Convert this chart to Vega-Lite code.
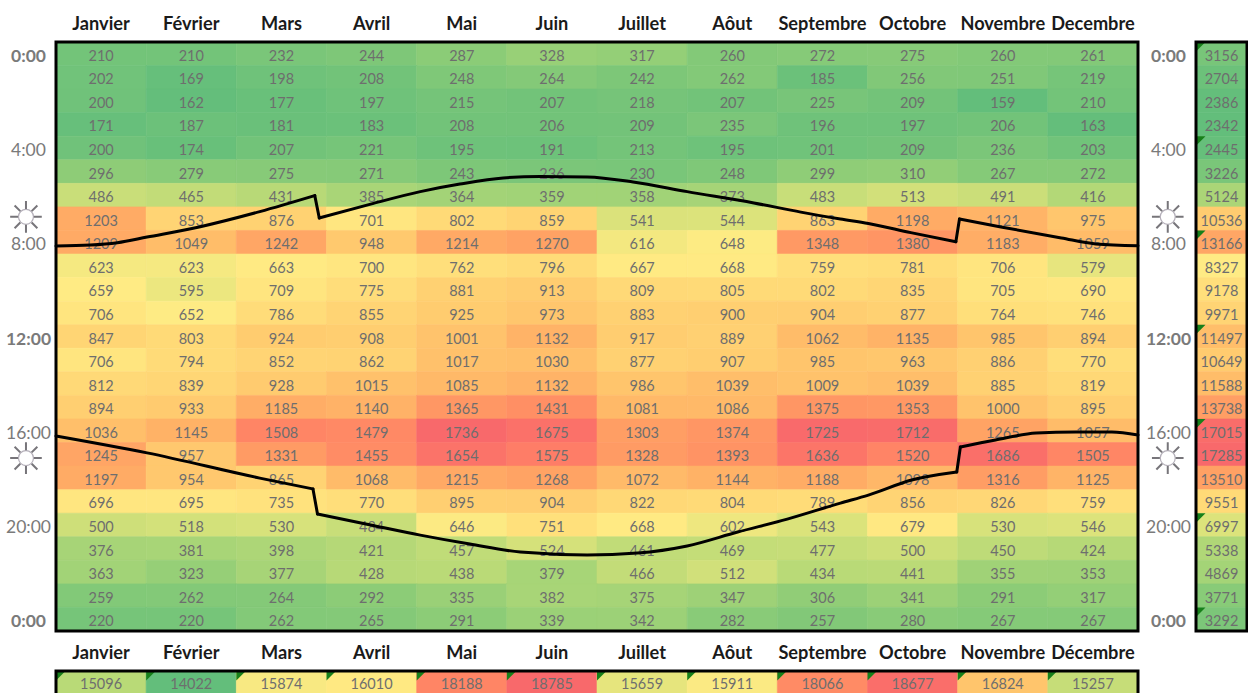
{
"$schema":"https://vega.github.io/schema/vega-lite/v6.json",
"padding":{"left":5,"top":14,"right":0,"bottom":0},
"background":"white",
"bounds":"flush",
"columns":2,
"spacing":{"column":58,"row":40},
"config":{"view":{"stroke":null},"font":"Lato"},
"resolve":{"scale":{"color":"independent","stroke":"independent"}},
"datasets":{
"cells":[
{"h":0,"month":"Janvier","value":210},{"h":0,"month":"Février","value":210},{"h":0,"month":"Mars","value":232},{"h":0,"month":"Avril","value":244},{"h":0,"month":"Mai","value":287},{"h":0,"month":"Juin","value":328},{"h":0,"month":"Juillet","value":317},{"h":0,"month":"Aôut","value":260},{"h":0,"month":"Septembre","value":272},{"h":0,"month":"Octobre","value":275},{"h":0,"month":"Novembre","value":260},{"h":0,"month":"Decembre","value":261},
{"h":1,"month":"Janvier","value":202},{"h":1,"month":"Février","value":169},{"h":1,"month":"Mars","value":198},{"h":1,"month":"Avril","value":208},{"h":1,"month":"Mai","value":248},{"h":1,"month":"Juin","value":264},{"h":1,"month":"Juillet","value":242},{"h":1,"month":"Aôut","value":262},{"h":1,"month":"Septembre","value":185},{"h":1,"month":"Octobre","value":256},{"h":1,"month":"Novembre","value":251},{"h":1,"month":"Decembre","value":219},
{"h":2,"month":"Janvier","value":200},{"h":2,"month":"Février","value":162},{"h":2,"month":"Mars","value":177},{"h":2,"month":"Avril","value":197},{"h":2,"month":"Mai","value":215},{"h":2,"month":"Juin","value":207},{"h":2,"month":"Juillet","value":218},{"h":2,"month":"Aôut","value":207},{"h":2,"month":"Septembre","value":225},{"h":2,"month":"Octobre","value":209},{"h":2,"month":"Novembre","value":159},{"h":2,"month":"Decembre","value":210},
{"h":3,"month":"Janvier","value":171},{"h":3,"month":"Février","value":187},{"h":3,"month":"Mars","value":181},{"h":3,"month":"Avril","value":183},{"h":3,"month":"Mai","value":208},{"h":3,"month":"Juin","value":206},{"h":3,"month":"Juillet","value":209},{"h":3,"month":"Aôut","value":235},{"h":3,"month":"Septembre","value":196},{"h":3,"month":"Octobre","value":197},{"h":3,"month":"Novembre","value":206},{"h":3,"month":"Decembre","value":163},
{"h":4,"month":"Janvier","value":200},{"h":4,"month":"Février","value":174},{"h":4,"month":"Mars","value":207},{"h":4,"month":"Avril","value":221},{"h":4,"month":"Mai","value":195},{"h":4,"month":"Juin","value":191},{"h":4,"month":"Juillet","value":213},{"h":4,"month":"Aôut","value":195},{"h":4,"month":"Septembre","value":201},{"h":4,"month":"Octobre","value":209},{"h":4,"month":"Novembre","value":236},{"h":4,"month":"Decembre","value":203},
{"h":5,"month":"Janvier","value":296},{"h":5,"month":"Février","value":279},{"h":5,"month":"Mars","value":275},{"h":5,"month":"Avril","value":271},{"h":5,"month":"Mai","value":243},{"h":5,"month":"Juin","value":236},{"h":5,"month":"Juillet","value":230},{"h":5,"month":"Aôut","value":248},{"h":5,"month":"Septembre","value":299},{"h":5,"month":"Octobre","value":310},{"h":5,"month":"Novembre","value":267},{"h":5,"month":"Decembre","value":272},
{"h":6,"month":"Janvier","value":486},{"h":6,"month":"Février","value":465},{"h":6,"month":"Mars","value":431},{"h":6,"month":"Avril","value":385},{"h":6,"month":"Mai","value":364},{"h":6,"month":"Juin","value":359},{"h":6,"month":"Juillet","value":358},{"h":6,"month":"Aôut","value":373},{"h":6,"month":"Septembre","value":483},{"h":6,"month":"Octobre","value":513},{"h":6,"month":"Novembre","value":491},{"h":6,"month":"Decembre","value":416},
{"h":7,"month":"Janvier","value":1203},{"h":7,"month":"Février","value":853},{"h":7,"month":"Mars","value":876},{"h":7,"month":"Avril","value":701},{"h":7,"month":"Mai","value":802},{"h":7,"month":"Juin","value":859},{"h":7,"month":"Juillet","value":541},{"h":7,"month":"Aôut","value":544},{"h":7,"month":"Septembre","value":863},{"h":7,"month":"Octobre","value":1198},{"h":7,"month":"Novembre","value":1121},{"h":7,"month":"Decembre","value":975},
{"h":8,"month":"Janvier","value":1209},{"h":8,"month":"Février","value":1049},{"h":8,"month":"Mars","value":1242},{"h":8,"month":"Avril","value":948},{"h":8,"month":"Mai","value":1214},{"h":8,"month":"Juin","value":1270},{"h":8,"month":"Juillet","value":616},{"h":8,"month":"Aôut","value":648},{"h":8,"month":"Septembre","value":1348},{"h":8,"month":"Octobre","value":1380},{"h":8,"month":"Novembre","value":1183},{"h":8,"month":"Decembre","value":1059},
{"h":9,"month":"Janvier","value":623},{"h":9,"month":"Février","value":623},{"h":9,"month":"Mars","value":663},{"h":9,"month":"Avril","value":700},{"h":9,"month":"Mai","value":762},{"h":9,"month":"Juin","value":796},{"h":9,"month":"Juillet","value":667},{"h":9,"month":"Aôut","value":668},{"h":9,"month":"Septembre","value":759},{"h":9,"month":"Octobre","value":781},{"h":9,"month":"Novembre","value":706},{"h":9,"month":"Decembre","value":579},
{"h":10,"month":"Janvier","value":659},{"h":10,"month":"Février","value":595},{"h":10,"month":"Mars","value":709},{"h":10,"month":"Avril","value":775},{"h":10,"month":"Mai","value":881},{"h":10,"month":"Juin","value":913},{"h":10,"month":"Juillet","value":809},{"h":10,"month":"Aôut","value":805},{"h":10,"month":"Septembre","value":802},{"h":10,"month":"Octobre","value":835},{"h":10,"month":"Novembre","value":705},{"h":10,"month":"Decembre","value":690},
{"h":11,"month":"Janvier","value":706},{"h":11,"month":"Février","value":652},{"h":11,"month":"Mars","value":786},{"h":11,"month":"Avril","value":855},{"h":11,"month":"Mai","value":925},{"h":11,"month":"Juin","value":973},{"h":11,"month":"Juillet","value":883},{"h":11,"month":"Aôut","value":900},{"h":11,"month":"Septembre","value":904},{"h":11,"month":"Octobre","value":877},{"h":11,"month":"Novembre","value":764},{"h":11,"month":"Decembre","value":746},
{"h":12,"month":"Janvier","value":847},{"h":12,"month":"Février","value":803},{"h":12,"month":"Mars","value":924},{"h":12,"month":"Avril","value":908},{"h":12,"month":"Mai","value":1001},{"h":12,"month":"Juin","value":1132},{"h":12,"month":"Juillet","value":917},{"h":12,"month":"Aôut","value":889},{"h":12,"month":"Septembre","value":1062},{"h":12,"month":"Octobre","value":1135},{"h":12,"month":"Novembre","value":985},{"h":12,"month":"Decembre","value":894},
{"h":13,"month":"Janvier","value":706},{"h":13,"month":"Février","value":794},{"h":13,"month":"Mars","value":852},{"h":13,"month":"Avril","value":862},{"h":13,"month":"Mai","value":1017},{"h":13,"month":"Juin","value":1030},{"h":13,"month":"Juillet","value":877},{"h":13,"month":"Aôut","value":907},{"h":13,"month":"Septembre","value":985},{"h":13,"month":"Octobre","value":963},{"h":13,"month":"Novembre","value":886},{"h":13,"month":"Decembre","value":770},
{"h":14,"month":"Janvier","value":812},{"h":14,"month":"Février","value":839},{"h":14,"month":"Mars","value":928},{"h":14,"month":"Avril","value":1015},{"h":14,"month":"Mai","value":1085},{"h":14,"month":"Juin","value":1132},{"h":14,"month":"Juillet","value":986},{"h":14,"month":"Aôut","value":1039},{"h":14,"month":"Septembre","value":1009},{"h":14,"month":"Octobre","value":1039},{"h":14,"month":"Novembre","value":885},{"h":14,"month":"Decembre","value":819},
{"h":15,"month":"Janvier","value":894},{"h":15,"month":"Février","value":933},{"h":15,"month":"Mars","value":1185},{"h":15,"month":"Avril","value":1140},{"h":15,"month":"Mai","value":1365},{"h":15,"month":"Juin","value":1431},{"h":15,"month":"Juillet","value":1081},{"h":15,"month":"Aôut","value":1086},{"h":15,"month":"Septembre","value":1375},{"h":15,"month":"Octobre","value":1353},{"h":15,"month":"Novembre","value":1000},{"h":15,"month":"Decembre","value":895},
{"h":16,"month":"Janvier","value":1036},{"h":16,"month":"Février","value":1145},{"h":16,"month":"Mars","value":1508},{"h":16,"month":"Avril","value":1479},{"h":16,"month":"Mai","value":1736},{"h":16,"month":"Juin","value":1675},{"h":16,"month":"Juillet","value":1303},{"h":16,"month":"Aôut","value":1374},{"h":16,"month":"Septembre","value":1725},{"h":16,"month":"Octobre","value":1712},{"h":16,"month":"Novembre","value":1265},{"h":16,"month":"Decembre","value":1057},
{"h":17,"month":"Janvier","value":1245},{"h":17,"month":"Février","value":957},{"h":17,"month":"Mars","value":1331},{"h":17,"month":"Avril","value":1455},{"h":17,"month":"Mai","value":1654},{"h":17,"month":"Juin","value":1575},{"h":17,"month":"Juillet","value":1328},{"h":17,"month":"Aôut","value":1393},{"h":17,"month":"Septembre","value":1636},{"h":17,"month":"Octobre","value":1520},{"h":17,"month":"Novembre","value":1686},{"h":17,"month":"Decembre","value":1505},
{"h":18,"month":"Janvier","value":1197},{"h":18,"month":"Février","value":954},{"h":18,"month":"Mars","value":865},{"h":18,"month":"Avril","value":1068},{"h":18,"month":"Mai","value":1215},{"h":18,"month":"Juin","value":1268},{"h":18,"month":"Juillet","value":1072},{"h":18,"month":"Aôut","value":1144},{"h":18,"month":"Septembre","value":1188},{"h":18,"month":"Octobre","value":1098},{"h":18,"month":"Novembre","value":1316},{"h":18,"month":"Decembre","value":1125},
{"h":19,"month":"Janvier","value":696},{"h":19,"month":"Février","value":695},{"h":19,"month":"Mars","value":735},{"h":19,"month":"Avril","value":770},{"h":19,"month":"Mai","value":895},{"h":19,"month":"Juin","value":904},{"h":19,"month":"Juillet","value":822},{"h":19,"month":"Aôut","value":804},{"h":19,"month":"Septembre","value":789},{"h":19,"month":"Octobre","value":856},{"h":19,"month":"Novembre","value":826},{"h":19,"month":"Decembre","value":759},
{"h":20,"month":"Janvier","value":500},{"h":20,"month":"Février","value":518},{"h":20,"month":"Mars","value":530},{"h":20,"month":"Avril","value":484},{"h":20,"month":"Mai","value":646},{"h":20,"month":"Juin","value":751},{"h":20,"month":"Juillet","value":668},{"h":20,"month":"Aôut","value":602},{"h":20,"month":"Septembre","value":543},{"h":20,"month":"Octobre","value":679},{"h":20,"month":"Novembre","value":530},{"h":20,"month":"Decembre","value":546},
{"h":21,"month":"Janvier","value":376},{"h":21,"month":"Février","value":381},{"h":21,"month":"Mars","value":398},{"h":21,"month":"Avril","value":421},{"h":21,"month":"Mai","value":457},{"h":21,"month":"Juin","value":524},{"h":21,"month":"Juillet","value":461},{"h":21,"month":"Aôut","value":469},{"h":21,"month":"Septembre","value":477},{"h":21,"month":"Octobre","value":500},{"h":21,"month":"Novembre","value":450},{"h":21,"month":"Decembre","value":424},
{"h":22,"month":"Janvier","value":363},{"h":22,"month":"Février","value":323},{"h":22,"month":"Mars","value":377},{"h":22,"month":"Avril","value":428},{"h":22,"month":"Mai","value":438},{"h":22,"month":"Juin","value":379},{"h":22,"month":"Juillet","value":466},{"h":22,"month":"Aôut","value":512},{"h":22,"month":"Septembre","value":434},{"h":22,"month":"Octobre","value":441},{"h":22,"month":"Novembre","value":355},{"h":22,"month":"Decembre","value":353},
{"h":23,"month":"Janvier","value":259},{"h":23,"month":"Février","value":262},{"h":23,"month":"Mars","value":264},{"h":23,"month":"Avril","value":292},{"h":23,"month":"Mai","value":335},{"h":23,"month":"Juin","value":382},{"h":23,"month":"Juillet","value":375},{"h":23,"month":"Aôut","value":347},{"h":23,"month":"Septembre","value":306},{"h":23,"month":"Octobre","value":341},{"h":23,"month":"Novembre","value":291},{"h":23,"month":"Decembre","value":317},
{"h":24,"month":"Janvier","value":220},{"h":24,"month":"Février","value":220},{"h":24,"month":"Mars","value":262},{"h":24,"month":"Avril","value":265},{"h":24,"month":"Mai","value":291},{"h":24,"month":"Juin","value":339},{"h":24,"month":"Juillet","value":342},{"h":24,"month":"Aôut","value":282},{"h":24,"month":"Septembre","value":257},{"h":24,"month":"Octobre","value":280},{"h":24,"month":"Novembre","value":267},{"h":24,"month":"Decembre","value":267}
],
"curves":[
{"c":"l1","m":0,"t":8.16},{"c":"l1","m":0.38,"t":8.12},{"c":"l1","m":0.68,"t":8.02},{"c":"l1","m":1.01,"t":7.78},{"c":"l1","m":1.6,"t":7.34},{"c":"l1","m":2.26,"t":6.7},{"c":"l1","m":2.87,"t":6.02},
{"c":"ls1","m":2.87,"t":6.02},{"c":"ls1","m":2.92,"t":6.97},
{"c":"l2","m":2.92,"t":6.97},{"c":"l2","m":3.49,"t":6.38},{"c":"l2","m":4.04,"t":5.85},{"c":"l2","m":4.48,"t":5.53},{"c":"l2","m":4.96,"t":5.27},{"c":"l2","m":5.37,"t":5.21},{"c":"l2","m":5.89,"t":5.23},{"c":"l2","m":6.4,"t":5.44},{"c":"l2","m":7,"t":5.85},{"c":"l2","m":7.74,"t":6.33},{"c":"l2","m":8.26,"t":6.72},{"c":"l2","m":8.7,"t":7.01},{"c":"l2","m":9.01,"t":7.2},{"c":"l2","m":9.48,"t":7.59},{"c":"l2","m":9.98,"t":7.98},
{"c":"ls2","m":9.98,"t":7.98},{"c":"ls2","m":10.02,"t":7.01},
{"c":"l3","m":10.02,"t":7.01},{"c":"l3","m":10.48,"t":7.35},{"c":"l3","m":11.15,"t":7.82},{"c":"l3","m":11.53,"t":8.07},{"c":"l3","m":12,"t":8.15},
{"c":"c1","m":0,"t":16.22},{"c":"c1","m":1.01,"t":16.94},{"c":"c1","m":2.26,"t":18.01},{"c":"c1","m":2.85,"t":18.47},
{"c":"cs1","m":2.85,"t":18.47},{"c":"cs1","m":2.9,"t":19.53},
{"c":"c2","m":2.9,"t":19.53},{"c":"c2","m":3.49,"t":20},{"c":"c2","m":4.04,"t":20.43},{"c":"c2","m":4.59,"t":20.81},{"c":"c2","m":5.15,"t":21.15},{"c":"c2","m":5.89,"t":21.27},{"c":"c2","m":6.45,"t":21.19},{"c":"c2","m":7,"t":20.89},{"c":"c2","m":7.56,"t":20.3},{"c":"c2","m":8.11,"t":19.75},{"c":"c2","m":8.7,"t":19.07},{"c":"c2","m":9.01,"t":18.73},{"c":"c2","m":9.49,"t":18.09},{"c":"c2","m":9.99,"t":17.75},
{"c":"cs2","m":9.99,"t":17.75},{"c":"cs2","m":10.03,"t":16.69},
{"c":"c3","m":10.03,"t":16.69},{"c":"c3","m":10.42,"t":16.39},{"c":"c3","m":10.87,"t":16.1},{"c":"c3","m":11.31,"t":16.05},{"c":"c3","m":11.71,"t":16.05},{"c":"c3","m":12,"t":16.18}
],
"right":[
{"h":0,"total":3156,"flag":true},{"h":1,"total":2704,"flag":false},{"h":2,"total":2386,"flag":false},{"h":3,"total":2342,"flag":false},{"h":4,"total":2445,"flag":true},{"h":5,"total":3226,"flag":false},{"h":6,"total":5124,"flag":false},{"h":7,"total":10536,"flag":false},{"h":8,"total":13166,"flag":true},{"h":9,"total":8327,"flag":false},{"h":10,"total":9178,"flag":false},{"h":11,"total":9971,"flag":false},{"h":12,"total":11497,"flag":true},{"h":13,"total":10649,"flag":false},{"h":14,"total":11588,"flag":false},{"h":15,"total":13738,"flag":false},{"h":16,"total":17015,"flag":true},{"h":17,"total":17285,"flag":false},{"h":18,"total":13510,"flag":false},{"h":19,"total":9551,"flag":false},{"h":20,"total":6997,"flag":true},{"h":21,"total":5338,"flag":false},{"h":22,"total":4869,"flag":false},{"h":23,"total":3771,"flag":false},{"h":24,"total":3292,"flag":true}
],
"bottom":[
{"month":"Janvier","total":15096},{"month":"Février","total":14022},{"month":"Mars","total":15874},{"month":"Avril","total":16010},{"month":"Mai","total":18188},{"month":"Juin","total":18785},{"month":"Juillet","total":15659},{"month":"Aôut","total":15911},{"month":"Septembre","total":18066},{"month":"Octobre","total":18677},{"month":"Novembre","total":16824},{"month":"Décembre","total":15257}
],
"frame":[{"a0":0,"a1":1,"b0":0,"b1":1}],
"suns":[{"m":-0.333,"t":6.92},{"m":-0.333,"t":17.16},{"m":12.33,"t":6.92},{"m":12.33,"t":17.16}]
},
"concat":[
{
"width":1082,"height":589,
"resolve":{"scale":{"x":"independent","y":"independent"}},
"layer":[
{
"data":{"name":"cells"},
"layer":[
{"mark":{"type":"rect","strokeWidth":0.6},
"encoding":{
"x":{"field":"month","type":"nominal","sort":null,"scale":{"paddingInner":0,"paddingOuter":0},"axis":{"orient":"top","title":null,"ticks":false,"domain":false,"labelAngle":0,"labelFont":"Lato","labelFontWeight":"bold","labelFontSize":18.2,"labelColor":"#1a1a1a","labelPadding":8.5,"labelOverlap":false,"labelBound":false,"labelFlush":false}},
"y":{"field":"h","type":"ordinal","scale":{"paddingInner":0,"paddingOuter":0},"axis":{"orient":"left","title":null,"ticks":false,"domain":false,"values":[0,4,8,12,16,20,24],"labelExpr":"(datum.value==24?0:datum.value)+':00'","labelFont":"Lato","labelFontSize":17.5,"labelColor":"#7a7a7a","labelFontWeight":{"condition":{"test":"datum.value%12==0","value":"bold"},"value":"normal"},"labelAlign":"center","labelPadding":28,"labelOffset":3,"labelOverlap":false,"labelBound":false}},
"color":{"field":"value","type":"quantitative","legend":null,"scale":{"type":"linear","domain":[159,655,1736],"range":["#63BE7B","#FFEB84","#F8696B"]}},
"stroke":{"field":"value","type":"quantitative","legend":null,"scale":{"type":"linear","domain":[159,655,1736],"range":["#63BE7B","#FFEB84","#F8696B"]}}
}},
{"mark":{"type":"text","font":"Lato","fontSize":14.5,"color":"#6e6e6e","dy":3},
"encoding":{
"x":{"field":"month","type":"nominal","sort":null},
"y":{"field":"h","type":"ordinal"},
"text":{"field":"value","type":"quantitative","format":"d"}
}}
]
},
{
"data":{"name":"curves"},
"mark":{"type":"line","color":"#000","strokeWidth":3,"interpolate":"monotone","clip":false,"strokeCap":"round"},
"encoding":{
"x":{"field":"m","type":"quantitative","scale":{"domain":[0,12],"nice":false,"zero":false},"axis":null},
"y":{"field":"t","type":"quantitative","scale":{"domain":[24.5,-0.5],"nice":false,"zero":false},"axis":null},
"detail":{"field":"c"},
"order":{"field":"m"}
}
},
{
"data":{"name":"suns"},
"mark":{"type":"point","shape":"M0.5,0A0.5,0.5 0 1,1 -0.5,0A0.5,0.5 0 1,1 0.5,0","size":900,"filled":true,"fill":"#ffffff","stroke":"#b5b0ba","strokeWidth":1.2,"opacity":1},
"encoding":{
"x":{"field":"m","type":"quantitative","axis":null,"scale":{"domain":[0,12],"nice":false,"zero":false}},
"y":{"field":"t","type":"quantitative","axis":null,"scale":{"domain":[24.5,-0.5],"nice":false,"zero":false}}
}
},
{
"data":{"name":"suns"},
"mark":{"type":"point","shape":"M0,-1L0,-0.5M0,1L0,0.5M-1,0L-0.5,0M1,0L0.5,0M-0.72,-0.72L-0.36,-0.36M0.72,-0.72L0.36,-0.36M-0.72,0.72L-0.36,0.36M0.72,0.72L0.36,0.36","size":1000,"filled":false,"stroke":"#77757a","strokeWidth":2,"opacity":1},
"encoding":{
"x":{"field":"m","type":"quantitative","axis":null,"scale":{"domain":[0,12],"nice":false,"zero":false}},
"y":{"field":"t","type":"quantitative","axis":null,"scale":{"domain":[24.5,-0.5],"nice":false,"zero":false}}
}
},
{
"data":{"name":"frame"},
"mark":{"type":"rect","fill":null,"stroke":"#000","strokeWidth":3,"clip":false},
"encoding":{
"x":{"field":"a0","type":"quantitative","axis":null,"scale":{"domain":[0,1],"nice":false,"zero":false}},
"x2":{"field":"a1"},
"y":{"field":"b0","type":"quantitative","axis":null,"scale":{"domain":[0,1],"nice":false,"zero":false}},
"y2":{"field":"b1"}
}
}
]
},
{
"width":51,"height":589,
"resolve":{"scale":{"x":"independent","y":"independent"}},
"layer":[
{
"data":{"name":"right"},
"layer":[
{"mark":{"type":"rect","strokeWidth":0.6},
"encoding":{
"y":{"field":"h","type":"ordinal","scale":{"paddingInner":0,"paddingOuter":0},"axis":{"orient":"left","title":null,"ticks":false,"domain":false,"values":[0,4,8,12,16,20,24],"labelExpr":"(datum.value==24?0:datum.value)+':00'","labelFont":"Lato","labelFontSize":17.5,"labelColor":"#7a7a7a","labelFontWeight":{"condition":{"test":"datum.value%12==0","value":"bold"},"value":"normal"},"labelAlign":"center","labelPadding":28,"labelOffset":3,"labelOverlap":false,"labelBound":false}},
"color":{"field":"total","type":"quantitative","legend":null,"scale":{"type":"linear","domain":[2342,8327,17285],"range":["#63BE7B","#FFEB84","#F8696B"]}},
"stroke":{"field":"total","type":"quantitative","legend":null,"scale":{"type":"linear","domain":[2342,8327,17285],"range":["#63BE7B","#FFEB84","#F8696B"]}}
}},
{"mark":{"type":"text","font":"Lato","fontSize":14.5,"color":"#6e6e6e","dy":3},
"encoding":{"y":{"field":"h","type":"ordinal"},"text":{"field":"total","type":"quantitative","format":"d"}}}
]
},
{
"data":{"name":"right"},
"transform":[{"filter":"datum.flag"}],
"mark":{"type":"point","shape":"M0,0L1,0L0,1Z","size":361,"filled":true,"fill":"#17801a","stroke":null,"opacity":1,"clip":false},
"encoding":{
"x":{"datum":0,"type":"quantitative","axis":null,"scale":{"domain":[0,1],"nice":false,"zero":false}},
"y":{"field":"h","type":"quantitative","axis":null,"scale":{"domain":[25,0],"nice":false,"zero":false}}
}
},
{
"data":{"name":"frame"},
"mark":{"type":"rect","fill":null,"stroke":"#000","strokeWidth":3,"clip":false},
"encoding":{
"x":{"field":"a0","type":"quantitative","axis":null,"scale":{"domain":[0,1],"nice":false,"zero":false}},
"x2":{"field":"a1"},
"y":{"field":"b0","type":"quantitative","axis":null,"scale":{"domain":[0,1],"nice":false,"zero":false}},
"y2":{"field":"b1"}
}
}
]
},
{
"width":1082,"height":24,
"resolve":{"scale":{"x":"independent","y":"independent"}},
"layer":[
{
"data":{"name":"bottom"},
"layer":[
{"mark":{"type":"rect","strokeWidth":0.6},
"encoding":{
"x":{"field":"month","type":"nominal","sort":null,"scale":{"paddingInner":0,"paddingOuter":0},"axis":{"orient":"top","title":null,"ticks":false,"domain":false,"labelAngle":0,"labelFont":"Lato","labelFontWeight":"bold","labelFontSize":18.2,"labelColor":"#1a1a1a","labelPadding":9,"labelOverlap":false,"labelBound":false,"labelFlush":false}},
"color":{"field":"total","type":"quantitative","legend":null,"scale":{"type":"linear","domain":[14022,15960,18785],"range":["#63BE7B","#FFEB84","#F8696B"]}},
"stroke":{"field":"total","type":"quantitative","legend":null,"scale":{"type":"linear","domain":[14022,15960,18785],"range":["#63BE7B","#FFEB84","#F8696B"]}}
}},
{"mark":{"type":"text","font":"Lato","fontSize":14.5,"color":"#6e6e6e","dy":1.5},
"encoding":{"x":{"field":"month","type":"nominal","sort":null},"text":{"field":"total","type":"quantitative","format":"d"}}},
{"mark":{"type":"point","shape":"M0,0L1,0L0,1Z","size":361,"filled":true,"fill":"#17801a","stroke":null,"opacity":1,"clip":false},
"encoding":{"x":{"field":"month","type":"nominal","sort":null,"bandPosition":0},"y":{"datum":0,"type":"quantitative","axis":null,"scale":{"domain":[1,0]}}}}
]
},
{
"data":{"name":"frame"},
"mark":{"type":"rect","fill":null,"stroke":"#000","strokeWidth":3,"clip":false},
"encoding":{
"x":{"field":"a0","type":"quantitative","axis":null,"scale":{"domain":[0,1],"nice":false,"zero":false}},
"x2":{"field":"a1"},
"y":{"field":"b0","type":"quantitative","axis":null,"scale":{"domain":[0,1],"nice":false,"zero":false}},
"y2":{"field":"b1"}
}
}
]
}
]
}
